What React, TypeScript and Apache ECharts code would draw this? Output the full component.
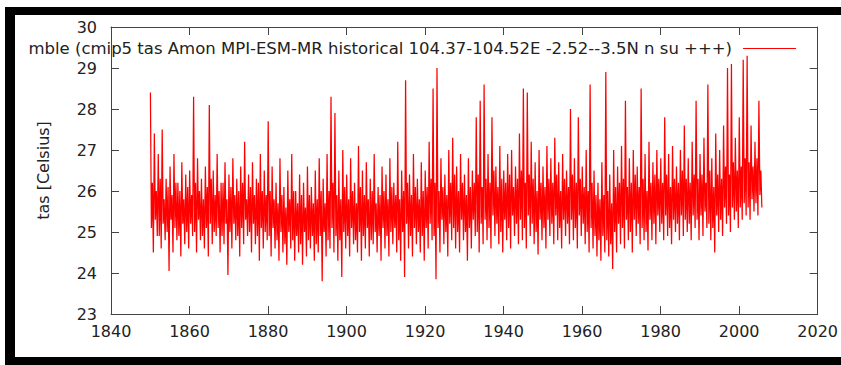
import React, { useEffect, useRef } from "react";
import * as echarts from "echarts";

const startYear = 1850;
// yearly peaks (upper excursions)
const peakVals = [
  28.4, 27.4, 26.9, 27.5, 26.3, 26.6, 26.9, 26.2, 26.7, 26.4,
  26.5, 28.3, 26.8, 26.3, 26.6, 28.1, 26.5, 26.9, 26.2, 26.7,
  26.4, 26.8, 26.3, 26.6, 27.2, 26.4, 26.7, 26.3, 26.9, 26.5,
  27.7, 26.6, 26.2, 26.8, 26.1, 26.5, 26.9, 26.0, 26.4, 26.2,
  26.6, 26.1, 26.5, 26.8, 26.3, 26.9, 28.3, 27.9, 26.5, 27.0,
  26.4, 26.8, 26.2, 27.1, 26.5, 26.7, 26.3, 26.9, 26.1, 26.6,
  26.4, 26.8, 26.2, 27.2, 26.5, 28.7, 26.4, 26.9, 26.3, 26.7,
  26.5, 27.2, 28.5, 29.0, 26.8, 26.4, 27.0, 27.3, 26.6, 26.9,
  26.4, 26.8, 26.5, 27.8, 28.2, 28.6, 26.9, 27.8, 26.6, 27.1,
  26.5, 26.9, 27.0, 26.6, 27.4, 28.5, 28.4, 27.2, 26.7, 27.0,
  26.6, 27.1, 26.8, 27.3, 26.7, 26.9, 26.5, 28.0, 26.8, 27.8,
  26.6, 27.0, 28.6, 26.5, 26.2, 26.7, 28.9, 26.4, 27.0, 26.6,
  27.1, 28.2, 26.8, 27.0, 26.6, 28.5, 26.9, 27.2, 26.7, 27.0,
  26.8, 27.8, 26.9, 27.1, 26.6, 27.0, 27.6, 26.8, 27.2, 28.2,
  26.9, 27.3, 28.6, 26.8, 27.4, 27.0, 27.6, 29.0, 29.1, 27.3,
  27.8, 29.2, 29.3, 27.6, 27.2, 28.2,
];
// yearly lower-core values
const coreLowVals = [
  25.1, 25.3, 24.9, 25.2, 25.0, 25.3, 25.1, 24.9, 25.2, 25.0,
  25.2, 25.0, 25.3, 24.9, 25.1, 25.2, 25.0, 25.1, 24.9, 25.2,
  25.0, 25.2, 24.9, 25.1, 25.3, 25.0, 25.2, 24.9, 25.1, 25.0,
  24.9, 25.1, 24.8, 25.0, 24.7, 25.0, 24.8, 24.9, 24.7, 25.0,
  24.8, 24.9, 24.7, 24.9, 25.0, 24.8, 25.1, 24.9, 24.8, 25.0,
  24.9, 25.1, 24.8, 25.0, 24.9, 25.1, 24.8, 25.0, 24.9, 25.1,
  24.9, 25.0, 25.1, 24.8, 25.0, 25.2, 24.9, 25.1, 25.0, 24.9,
  25.1, 25.2, 24.9, 25.1, 25.3, 25.0, 25.2, 25.1, 25.0, 25.3,
  25.0, 25.1, 25.3, 25.0, 25.2, 25.3, 25.1, 25.4, 25.2, 25.0,
  25.3, 25.1, 25.4, 25.2, 25.3, 25.1, 25.4, 25.2, 25.0, 25.3,
  25.1, 25.3, 25.2, 25.4, 25.1, 25.3, 25.2, 25.3, 25.1, 25.4,
  25.2, 25.0, 25.1, 24.9, 24.8, 24.9, 24.8, 24.7, 25.0, 25.2,
  25.1, 25.3, 25.0, 25.3, 25.2, 25.1, 25.0, 25.3, 25.2, 25.4,
  25.2, 25.4, 25.1, 25.3, 25.2, 25.4, 25.3, 25.2, 25.4, 25.3,
  25.4, 25.5, 25.2, 25.1, 25.4, 25.3, 25.6, 25.4, 25.6, 25.5,
  25.6, 25.7, 25.6, 25.8, 25.7, 25.9,
];
// yearly upper-core values
const coreHighVals = [
  26.2, 26.0, 26.3, 25.8, 26.1, 25.9, 26.2, 26.0, 25.8, 26.1,
  25.9, 26.2, 26.0, 25.8, 26.1, 26.3, 25.9, 26.0, 26.2, 25.8,
  26.1, 25.9, 26.0, 26.2, 25.8, 26.1, 25.9, 26.2, 26.0, 25.9,
  26.0, 25.8, 25.7, 25.9, 25.6, 25.8, 26.0, 25.7, 25.9, 25.6,
  25.9, 25.7, 25.8, 26.0, 25.7, 26.0, 26.2, 25.9, 25.8, 26.1,
  25.8, 26.0, 25.7, 26.1, 25.9, 25.8, 26.0, 25.7, 25.9, 26.0,
  25.8, 26.1, 25.9, 25.8, 26.0, 26.2, 25.9, 26.1, 25.8, 26.0,
  26.1, 26.3, 26.2, 26.0, 26.1, 25.9, 26.2, 26.4, 26.0, 26.2,
  25.9, 26.1, 26.2, 26.4, 26.1, 26.3, 26.2, 26.5, 26.1, 26.3,
  26.2, 26.4, 26.1, 26.3, 26.5, 26.2, 26.4, 26.3, 26.0, 26.2,
  26.1, 26.3, 26.2, 26.4, 26.0, 26.3, 26.1, 26.4, 26.2, 26.3,
  26.1, 26.0, 26.2, 25.9, 25.8, 25.9, 26.0, 25.7, 26.1, 26.2,
  26.3, 26.1, 26.2, 26.4, 26.1, 26.3, 26.0, 26.2, 26.4, 26.3,
  26.2, 26.4, 26.1, 26.3, 26.2, 26.5, 26.3, 26.2, 26.4, 26.3,
  26.4, 26.2, 26.5, 26.1, 26.4, 26.3, 26.6, 26.4, 26.7, 26.5,
  26.6, 26.8, 26.7, 26.6, 26.8, 26.5,
];
// yearly troughs (lower excursions)
const troughVals = [
  24.5, 24.9, 24.6, 24.8, 24.05, 24.5, 24.8, 24.4, 24.7, 24.6,
  24.9, 24.5, 24.8, 24.6, 24.4, 24.7, 24.9, 24.5, 24.7, 23.95,
  24.6, 24.8, 24.4, 24.7, 24.9, 24.5, 24.7, 24.3, 24.6, 24.8,
  24.4, 24.6, 24.3, 24.5, 24.2, 24.6, 24.3, 24.5, 24.2, 24.4,
  24.6, 24.3, 24.5, 23.8, 24.4, 24.6, 24.5, 24.3, 23.9, 24.6,
  24.4, 24.7, 24.5, 24.3, 24.6, 24.4, 24.7, 24.5, 24.3, 24.6,
  24.4, 24.7, 24.5, 24.3, 23.9, 24.6, 24.4, 24.7, 24.5, 24.3,
  24.6, 24.8, 23.85, 24.5, 24.7, 24.4, 24.8, 24.6, 24.5, 24.8,
  24.3, 24.6, 24.9, 24.5, 24.7, 24.8, 24.6, 24.9, 24.7, 24.5,
  24.8, 24.6, 24.9, 24.7, 24.8, 24.6, 24.9, 24.7, 24.45, 24.8,
  24.6, 24.9, 24.7, 24.8, 24.6, 24.9, 24.7, 24.8, 24.6, 24.9,
  24.7, 24.5, 24.6, 24.4, 24.3, 24.5, 24.4, 24.1, 24.5, 24.7,
  24.6, 24.8, 24.5, 24.9, 24.7, 24.8, 24.55, 24.8, 24.7, 25.0,
  24.8, 24.9, 24.7, 25.0, 24.8, 24.9, 25.0, 24.8, 25.1, 24.8,
  24.9, 25.1, 24.8, 24.5, 25.0, 24.9, 25.2, 25.0, 25.3, 25.1,
  25.3, 25.4, 25.3, 25.5, 25.4, 25.6,
];

const seriesName =
  "mble (cmip5 tas Amon MPI-ESM-MR historical 104.37-104.52E -2.52--3.5N n su +++)";
const yAxisTitle = "tas [Celsius]";
const xMin = 1840, xMax = 2020, xStep = 20;
const yMin = 23, yMax = 30, yStep = 1;

function buildData(): number[][] {
  const out: number[][] = [];
  for (let i = 0; i < peakVals.length; i++) {
    const y = startYear + i;
    out.push([y + 0.04, peakVals[i]]);
    out.push([y + 0.29, coreLowVals[i]]);
    out.push([y + 0.54, coreHighVals[i]]);
    out.push([y + 0.79, troughVals[i]]);
  }
  return out;
}

export default function App() {
  const ref = useRef<HTMLDivElement>(null);
  useEffect(() => {
    if (!ref.current) return;
    const chart = echarts.init(ref.current, null, { renderer: "svg" });
    const font = "DejaVu Sans";
    const axisColor = "#444";
    const textColor = "#222";
    const common = {
      axisLine: { show: true, lineStyle: { color: axisColor, width: 1 } },
      axisTick: { show: true, inside: true, length: 8, lineStyle: { color: axisColor } },
      splitLine: { show: false },
    };
    chart.setOption({
      animation: false,
      backgroundColor: "#ffffff",
      textStyle: { fontFamily: font },
      grid: { left: 111, right: 23, top: 27, bottom: 51, containLabel: false },
      legend: {
        show: true,
        right: 40,
        top: 35,
        align: "right",
        itemWidth: 53,
        itemHeight: 1,
        selectedMode: false,
        textStyle: { fontFamily: font, fontSize: 16.5, color: textColor, padding: [0, 6, 0, 0] },
        data: [{ name: seriesName, icon: "rect", itemStyle: { color: "#ff0000" } }],
      },
      xAxis: [
        {
          type: "value", min: xMin, max: xMax, interval: xStep, position: "bottom",
          ...common,
          axisLabel: {
            show: true, margin: 9, fontFamily: font, fontSize: 16, color: textColor,
            formatter: (v: number) => String(v),
          },
        },
        {
          type: "value", min: xMin, max: xMax, interval: xStep, position: "top",
          ...common,
          axisLabel: { show: false },
        },
      ],
      yAxis: [
        {
          type: "value", min: yMin, max: yMax, interval: yStep, position: "left",
          ...common,
          name: yAxisTitle,
          nameLocation: "middle",
          nameGap: 60,
          nameRotate: 90,
          nameTextStyle: { fontFamily: font, fontSize: 16, color: textColor },
          axisLabel: { show: true, margin: 14, fontFamily: font, fontSize: 16, color: textColor },
        },
        {
          type: "value", min: yMin, max: yMax, interval: yStep, position: "right",
          ...common,
          axisLabel: { show: false },
        },
      ],
      series: [
        {
          name: seriesName,
          type: "line",
          xAxisIndex: 0,
          yAxisIndex: 0,
          data: buildData(),
          symbol: "none",
          showSymbol: false,
          lineStyle: { color: "#ff0000", width: 1.25 },
          itemStyle: { color: "#ff0000" },
        },
      ],
      graphic: [
        { type: "rect", shape: { x: 5, y: 7, width: 10, height: 358 }, style: { fill: "#000" }, silent: true },
        { type: "rect", shape: { x: 5, y: 7, width: 836, height: 8 }, style: { fill: "#000" }, silent: true },
        { type: "rect", shape: { x: 5, y: 357, width: 836, height: 8 }, style: { fill: "#000" }, silent: true },
      ],
    });
    return () => chart.dispose();
  }, []);
  return (
    <div
      ref={ref}
      style={{ position: "absolute", left: 0, top: 0, width: 841, height: 365 }}
    />
  );
}
